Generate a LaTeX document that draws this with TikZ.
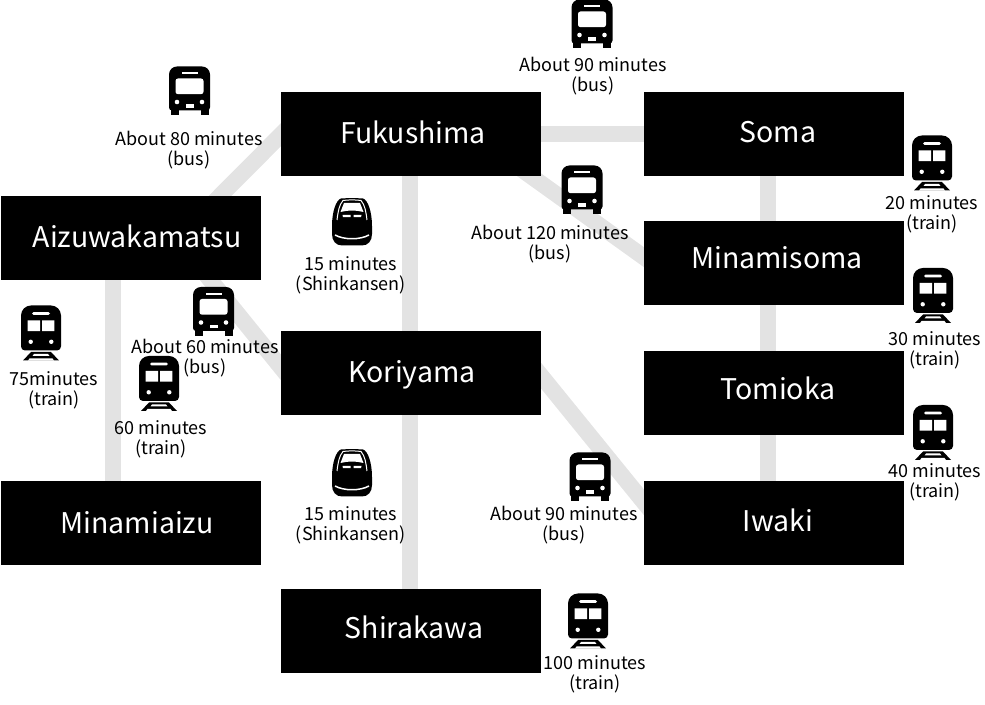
\documentclass[tikz,border=0pt]{standalone}
\usepackage{fontspec}
\setmainfont{Noto Sans CJK JP}
\usetikzlibrary{backgrounds}
\definecolor{roadgray}{HTML}{E3E3E3}
\tikzset{
  citysty/.style={minimum width=5.2cm,minimum height=1.68cm,fill=black,inner sep=0pt},
  citytext/.style={text=white,inner sep=0pt,font=\fontsize{16.2}{18}\selectfont},
  timesty/.style={align=center,inner sep=0pt,font=\fontsize{10.25}{11.34}\selectfont},
  roadsty/.style={color=roadgray,line width=.325cm,shorten >=-.2cm,shorten <=-.2cm},
  pics/busicon/.style={code={
    \fill (-20.5,0) [rounded corners=1.6mm] -- (-20.5,-24.5) -- (20.5,-24.5) -- (20.5,0)
      [rounded corners=.6mm] -- (20.5,19.5) -- (-20.5,19.5) -- cycle;
    \fill (-19,15) -- (-19,24.5) -- (-11,24.5) -- (-11,15) -- cycle;
    \fill (19,15) -- (19,24.5) -- (11,24.5) -- (11,15) -- cycle;
    \fill[white,rounded corners=.5mm] (-14,-12.5) rectangle (14,3.2);
    \fill[white] (-8,-18.5) rectangle (8,-16.5);
    \fill[white] (-4,13.5) rectangle (4,17);
    \fill[white] (-12.5,11) circle [radius=2.3] (12.5,11) circle [radius=2.3];
  }},
  pics/trainicon/.style={code={
    \fill (-20,0) [rounded corners=2mm] -- (-20,-28) -- (20,-28) -- (20,0)
      [rounded corners=.8mm] -- (20,17) -- (-20,17) -- cycle;
    \fill[white] (-13.3,-13) rectangle (-1,-2.3) (1,-13) rectangle (13.3,-2.3);
    \fill[white,rounded corners=.3mm] (-9,-21.3) rectangle (9,-18.5);
    \fill[white] (-10.3,8.3) circle [radius=2.2] (10.3,8.3) circle [radius=2.2];
    \fill (-10,18.5) -- (10,18.5) -- (18,27) -- (-18,27) -- cycle;
    \fill[white] (-7,20.5) -- (7,20.5) -- (8.5,22.5) -- (-8.5,22.5) -- cycle;
    \fill[white] (-11.5,25) -- (11.5,25) -- (13,27.1) -- (-13,27.1) -- cycle;
  }},
  pics/shinkicon/.style={code={
    \fill (-11,-23.5) .. controls (-4,-24) and (4,-24) .. (11,-23.5)
      .. controls (16,-22) and (20,-10) .. (20,4)
      -- (20,12) .. controls (20,19) and (16,23.5) .. (10,23.5) -- (-10,23.5)
      .. controls (-16,23.5) and (-20,19) .. (-20,12) -- (-20,4)
      .. controls (-20,-10) and (-16,-22) .. (-11,-23.5) -- cycle;
    \draw[white,line width=.02cm] (-15,-2) .. controls (-14,-10) and (-13,-17) .. (-9,-21.5)
      .. controls (-3,-22.3) and (3,-22.3) .. (9,-21.5)
      .. controls (13,-17) and (14,-10) .. (15,-2);
    \fill[white] (-8,-19) -- (8,-19) -- (11.5,-10) .. controls (4,-12) and (-4,-12) .. (-11.5,-10) -- cycle;
    \fill[white] (-9.5,-7) -- (-1.5,-7) -- (-1.5,-4.8) -- (-9,-4.8) -- cycle;
    \fill[white] (9.5,-7) -- (1.5,-7) -- (1.5,-4.8) -- (9,-4.8) -- cycle;
    \draw[white,line width=.03cm] (-17,13) .. controls (-8,18) and (8,18) .. (17,13);
  }}
}
\begin{document}
\begin{tikzpicture}[x=.02cm,y=-.02cm]
  \useasboundingbox (0,0) rectangle (985,705);
  % stations
  \node[citysty,label={[citytext,xshift=.04cm,yshift=.04cm]center:Fukushima}] (fukushima) at (411,134) {};
  \node[citysty,label={[citytext,xshift=.08cm,yshift=.04cm]center:Soma}] (soma) at (774,134) {};
  \node[citysty,label={[citytext,xshift=.12cm,yshift=.04cm]center:Aizuwakamatsu}] (aizu) at (131,238) {};
  \node[citysty,label={[citytext,xshift=.06cm,yshift=.1cm]center:Minamisoma}] (minamisoma) at (774,263) {};
  \node[citysty,label={[citytext,xshift=.02cm,yshift=-.04cm]center:Koriyama}] (koriyama) at (411,373) {};
  \node[citysty,label={[citytext,xshift=.08cm,yshift=.1cm]center:Tomioka}] (tomioka) at (774,393) {};
  \node[citysty,label={[citytext,xshift=.12cm]center:Minamiaizu}] (minamiaizu) at (131,523) {};
  \node[citysty,label={[citytext,xshift=.08cm,yshift=.06cm]center:Iwaki}] (iwaki) at (774,523) {};
  \node[citysty,label={[citytext,xshift=.06cm,yshift=.08cm]center:Shirakawa}] (shirakawa) at (411,631) {};

  % roads
  \begin{scope}[on background layer]
    \draw[roadsty] (fukushima) -- (soma);
    \draw[roadsty] ([xshift=-.02cm]fukushima.center) -- ([xshift=-.02cm]koriyama.center);
    \draw[roadsty] ([xshift=-.02cm]koriyama.center) -- ([xshift=-.02cm]shirakawa.center);
    \draw[roadsty] ([xshift=-.12cm]soma.center) -- ([xshift=-.12cm]iwaki.center);
    \draw[roadsty] ([xshift=-.36cm]aizu.center) -- ([xshift=-.36cm]minamiaizu.center);
    \draw[roadsty] ([xshift=-.82cm]aizu.north east) -- ([yshift=-.02cm]fukushima.west);
    \draw[roadsty] ([xshift=-.48cm,yshift=.2cm]fukushima.south east) -- ([yshift=.12cm]minamisoma.west);
    \draw[roadsty] ([xshift=-1cm,yshift=-.02cm]aizu.south east) -- ([yshift=.12cm]koriyama.west);
    \draw[roadsty] ([yshift=-.06cm]koriyama.east) -- ([yshift=.42cm]iwaki.west);
  \end{scope}

  % bus
  \pic at (189.5,91) {busicon};
  \pic at (592,24) {busicon};
  \pic at (582,190) {busicon};
  \pic at (213.5,311.5) {busicon};
  \pic at (590,477) {busicon};
  % train
  \pic at (41,333.5) {trainicon};
  \pic at (159,384) {trainicon};
  \pic at (932,163.5) {trainicon};
  \pic at (933,296) {trainicon};
  \pic at (933,433) {trainicon};
  \pic at (588,621.5) {trainicon};
  % shinkansen
  \pic at (352,222) {shinkicon};
  \pic at (352,473) {shinkicon};

  % times
  \node[timesty] (tbusa) at (593,76) {About 90 minutes\\(bus)};
  \node[timesty] (tbusb) at (189,150) {About 80 minutes\\(bus)};
  \node[timesty] (tbusc) at (550,244) {About 120 minutes\\(bus)};
  \node[timesty] (tbusd) at (205,358) {About 60 minutes\\(bus)};
  \node[timesty] (tbuse) at (564,525) {About 90 minutes\\(bus)};
  \node[timesty] (tshina) at (351,275) {15 minutes\\(Shinkansen)};
  \node[timesty] (tshinb) at (351,525) {15 minutes\\(Shinkansen)};
  \node[timesty] (ttraina) at (54,390) {75minutes\\(train)};
  \node[timesty] (ttrainb) at (161,439) {60 minutes\\(train)};
  \node[timesty] (ttrainc) at (932,214) {20 minutes\\(train)};
  \node[timesty] (ttraind) at (935,350) {30 minutes\\(train)};
  \node[timesty] (ttraine) at (935,482) {40 minutes\\(train)};
  \node[timesty] (ttrainf) at (595,674) {100 minutes\\(train)};
\end{tikzpicture}
\end{document}
